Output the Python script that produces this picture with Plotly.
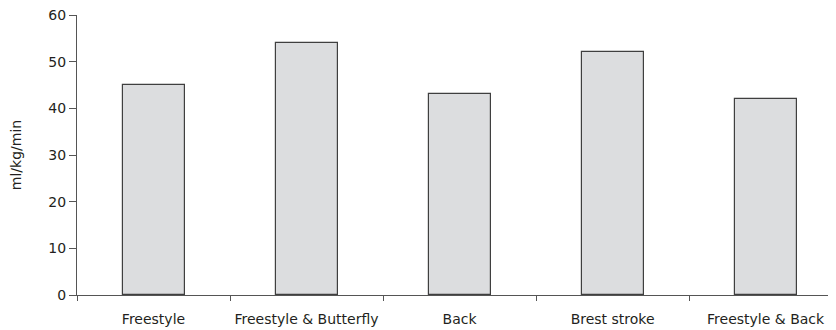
import plotly.graph_objects as go

categories = ["Freestyle", "Freestyle & Butterfly", "Back", "Brest stroke", "Freestyle & Back"]
values = [45, 54, 43, 52, 42]
y_ticks = [0, 10, 20, 30, 40, 50, 60]

fig = go.Figure()
fig.add_trace(go.Bar(
    x=categories, y=values, width=0.405,
    marker=dict(color="#dcdddf", line=dict(color="#3f3f3f", width=1.2)),
))

font = dict(family="DejaVu Sans, Liberation Sans, sans-serif", size=14, color="#231f20")
fig.update_layout(
    width=828, height=322,
    margin=dict(l=69, r=0, t=7, b=35, autoexpand=False),
    plot_bgcolor="white", paper_bgcolor="white",
    showlegend=False, font=font, bargap=0,
    xaxis=dict(
        type="category", range=[-0.5, 4.46], automargin=False, tickangle=0,
        showline=True, linecolor="#555555", linewidth=1,
        ticks="outside", tickson="boundaries", ticklen=5, tickcolor="#555555",
        showgrid=False, zeroline=False, tickfont=font, ticklabelstandoff=11,
    ),
    yaxis=dict(
        range=[0, 60], tickvals=y_ticks, automargin=False, ticklabeloverflow="allow",
        showline=True, linecolor="#555555", linewidth=1,
        ticks="outside", ticklen=7, tickcolor="#555555",
        showgrid=False, zeroline=False, tickfont=font,
        title=dict(text="ml/kg/min", font=font, standoff=23),
    ),
)
fig.write_html("out.html")
